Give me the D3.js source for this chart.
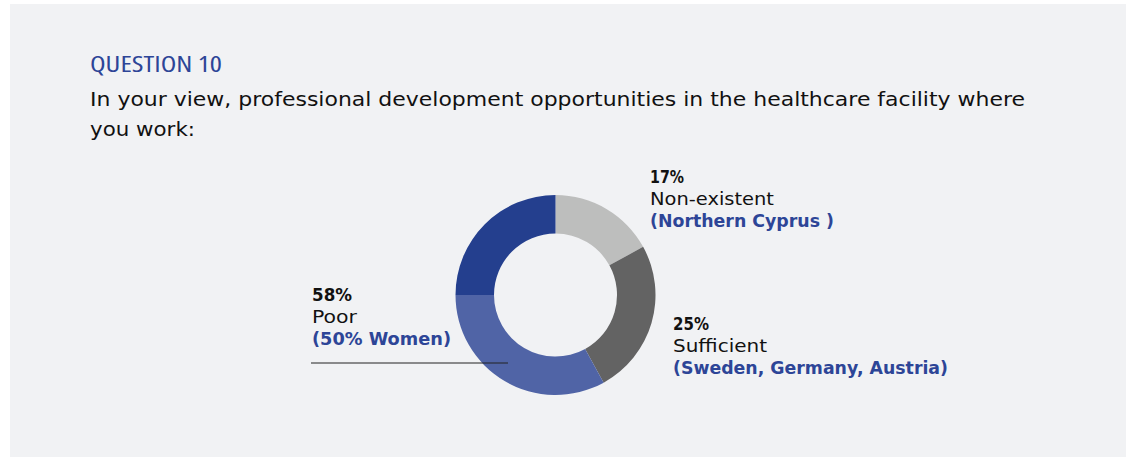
<!DOCTYPE html>
<html>
<head>
<meta charset="utf-8">
<script src="https://cdn.jsdelivr.net/npm/d3@7"></script>
<style>
  html, body { margin: 0; padding: 0; background: #ffffff; }
  svg { display: block; }
</style>
</head>
<body>
<svg id="chart" width="1136" height="461"></svg>
<script>
// Answer categories and their shares (%)
const categories = ["Non-existent", "Sufficient", "Poor"];
const values = [17, 25, 58];
const notes = ["(Northern Cyprus )", "(Sweden, Germany, Austria)", "(50% Women)"];
// "Poor" is shown in two shades of blue
const poorParts = [33, 25];

const segments = [
  { key: "Non-existent", value: values[0], color: "#bdbebd" },
  { key: "Sufficient", value: values[1], color: "#636363" },
  { key: "Poor-a", value: poorParts[0], color: "#5064a6" },
  { key: "Poor-b", value: poorParts[1], color: "#243f8e" }
];

const svg = d3.select("#chart");

// panel background
svg.append("rect")
  .attr("x", 10).attr("y", 4)
  .attr("width", 1116).attr("height", 453)
  .attr("fill", "#f1f2f4");

const blue = "#2d4597";

svg.append("text")
  .attr("x", 90).attr("y", 72)
  .attr("font-family", "'Liberation Sans Narrow', 'Open Sans', sans-serif")
  .attr("font-stretch", "condensed")
  .attr("font-size", 22)
  .attr("fill", blue)
  .attr("textLength", 132)
  .attr("lengthAdjust", "spacingAndGlyphs")
  .text("QUESTION 10");

const qFont = "'DejaVu Sans', 'Noto Sans', sans-serif";
svg.append("text")
  .attr("x", 90).attr("y", 106)
  .attr("font-family", qFont)
  .attr("font-size", 19.5)
  .attr("fill", "#111")
  .attr("textLength", 935)
  .attr("lengthAdjust", "spacingAndGlyphs")
  .text("In your view, professional development opportunities in the healthcare facility where");
svg.append("text")
  .attr("x", 90).attr("y", 136)
  .attr("font-family", qFont)
  .attr("font-size", 19.5)
  .attr("fill", "#111")
  .attr("textLength", 105)
  .attr("lengthAdjust", "spacingAndGlyphs")
  .text("you work:");

// donut
const cx = 555.5, cy = 295, rOuter = 100, rInner = 61.5;
const pie = d3.pie().sort(null).value(d => d.value);
const arc = d3.arc().innerRadius(rInner).outerRadius(rOuter);

const g = svg.append("g").attr("transform", `translate(${cx},${cy})`);
g.selectAll("path")
  .data(pie(segments))
  .join("path")
  .attr("d", arc)
  .attr("fill", d => d.data.color);

// labels
const labelFont = "'DejaVu Sans', 'Noto Sans', sans-serif";
const labelPos = [
  { x: 650, y: 183, w: [34, 124, 184] },
  { x: 673, y: 330, w: [36, 94, 275] },
  { x: 312, y: 301, w: [40, 45, 139] }
];

categories.forEach((c, i) => {
  const p = labelPos[i];
  const t = svg.append("g");
  t.append("text")
    .attr("x", p.x).attr("y", p.y)
    .attr("font-family", labelFont).attr("font-size", 18).attr("font-weight", "bold")
    .attr("fill", "#111")
    .attr("textLength", p.w[0]).attr("lengthAdjust", "spacingAndGlyphs")
    .text(values[i] + "%");
  t.append("text")
    .attr("x", p.x).attr("y", p.y + 22)
    .attr("font-family", labelFont).attr("font-size", 18)
    .attr("fill", "#111")
    .attr("textLength", p.w[1]).attr("lengthAdjust", "spacingAndGlyphs")
    .text(c);
  t.append("text")
    .attr("x", p.x).attr("y", p.y + 44)
    .attr("font-family", labelFont).attr("font-size", 18).attr("font-weight", "bold")
    .attr("fill", blue)
    .attr("textLength", p.w[2]).attr("lengthAdjust", "spacingAndGlyphs")
    .text(notes[i]);
});

// leader line for "Poor"
svg.append("line")
  .attr("x1", 311).attr("x2", 508)
  .attr("y1", 363).attr("y2", 363)
  .attr("stroke", "#222").attr("stroke-width", 1);
</script>
</body>
</html>
